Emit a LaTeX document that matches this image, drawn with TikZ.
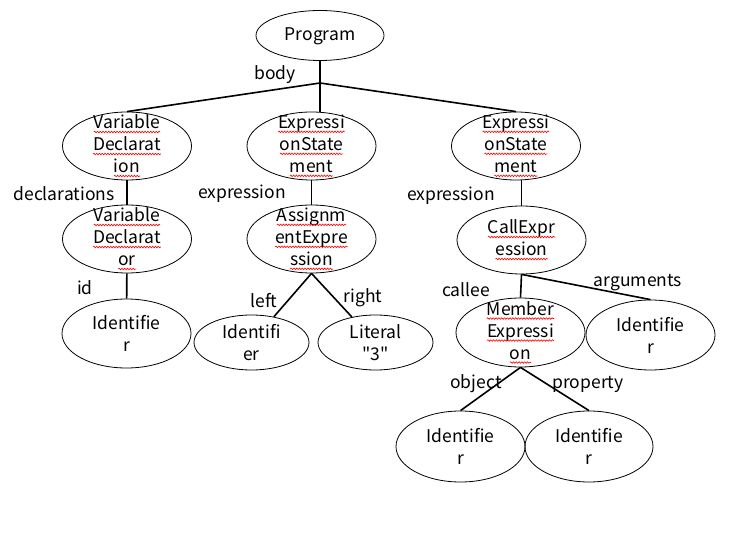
\documentclass[tikz,border=0pt]{standalone}
\usepackage{fontspec}
\setmainfont{Noto Sans CJK JP}[Ligatures=TeXOff]
\usetikzlibrary{shapes.geometric,decorations.pathmorphing}
\newcommand\rw[1]{\tikz[baseline=(w.base)]{\node[inner sep=0pt,outer sep=0pt] (w) {#1};
  \draw[red, line width=0.6pt, decorate, decoration={snake,amplitude=0.8pt,segment length=2.8pt}] ([yshift=-3.2pt]w.base west) -- ([yshift=-3.2pt]w.base east);}}
\begin{document}
\begin{tikzpicture}[x=1pt,y=-1pt,
  ell/.style={draw, ellipse, line width=0.8pt, inner sep=0pt, minimum width=129pt, minimum height=68pt},
  txt/.style={align=center, inner sep=0pt, font=\fontsize{17.5}{22}\selectfont},
  lab/.style={inner sep=0pt, font=\fontsize{17.5}{22}\selectfont},
  conn/.style={line width=1.6pt}]
\useasboundingbox (0,0) rectangle (730,534);
% ellipses
\node[ell, minimum width=128pt, minimum height=50pt] (prog) at (320,35.5) {};
\node[ell] (vd)  at (127,146) {};
\node[ell] (es1) at (311.5,146) {};
\node[ell] (es2) at (516,146) {};
\node[ell] (vdr) at (127,239) {};
\node[ell] (ae)  at (311.5,239) {};
\node[ell] (ce)  at (521.5,240) {};
\node[ell, minimum height=69pt] (id1) at (126.5,333.5) {};
\node[ell, minimum width=115pt, minimum height=55pt] (idl) at (251.5,342.5) {};
\node[ell, minimum width=115pt, minimum height=55pt] (lit) at (375.5,342.5) {};
\node[ell, minimum height=69pt] (me)  at (520.5,332.5) {};
\node[ell, minimum height=70pt] (ida) at (650.5,335) {};
\node[ell, minimum height=71pt] (ido) at (460.5,446.5) {};
\node[ell, minimum width=128pt, minimum height=71pt] (idp) at (589,446.5) {};
% texts
\node[txt] (progt) at (320,36) {Program};
\node[txt] (vdt)  at (vd)  {\rw{Variable}\\\rw{Declarat}\\\rw{ion}};
\node[txt] (es1t) at (es1) {\rw{Expressi}\\\rw{onState}\\\rw{ment}};
\node[txt] (es2t) at (es2) {\rw{Expressi}\\\rw{onState}\\\rw{ment}};
\node[txt] (vdrt) at (vdr) {\rw{Variable}\\\rw{Declarat}\\\rw{or}};
\node[txt] (aet)  at (ae)  {\rw{Assignm}\\\rw{entExpre}\\\rw{ssion}};
\node[txt] (cet)  at (ce)  {\rw{CallExpr}\\\rw{ession}};
\node[txt] (id1t) at (id1) {Identifie\\r};
\node[txt] (idlt) at (idl) {Identifi\\er};
\node[txt] (litt) at (lit) {Literal\\"3"};
\node[txt] (met)  at (me)  {\rw{Member}\\\rw{Expressi}\\\rw{on}};
\node[txt] (idat) at (ida) {Identifie\\r};
\node[txt] (idot) at (ido) {Identifie\\r};
\node[txt] (idpt) at (idp) {Identifie\\r};
% connectors
\coordinate (j) at (320,83);
\draw[conn] (prog.south) -- (prog.south |- es1.north);
\draw[conn] (j) -- (vd.north);
\draw[conn] (j) -- (es2.north);
\draw[conn] (vd) -- (vdr);
\draw[conn] (es1) -- (ae);
\draw[conn] (ce.north |- es2.south) -- (ce.north);
\draw[conn] (vdr) -- (id1);
\draw[conn] (ae.south) -- (idl);
\draw[conn] (ae.south) -- (lit);
\draw[conn] (ce.south) -- (me.north);
\draw[conn] (ce.south) -- (ida.north);
\draw[conn] (me.south) -- (ido.north);
\draw[conn] (me.south) -- (idp.north);
% labels
\node[lab] (lbody) at (275,75) {body};
\node[lab] (ldecl) at (64,194) {declarations};
\node[lab] (lexp1) at (242,194) {expression};
\node[lab] (lexp2) at (451,196) {expression};
\node[lab] (lid) at (85,288) {id};
\node[lab] (lleft) at (264,301) {left};
\node[lab] (lright) at (363,298) {right};
\node[lab] (lcallee) at (466,290) {callee};
\node[lab] (largs) at (638,283) {arguments};
\node[lab] (lobj) at (476,384) {object};
\node[lab] (lprop) at (588,384) {property};
\end{tikzpicture}
\end{document}
